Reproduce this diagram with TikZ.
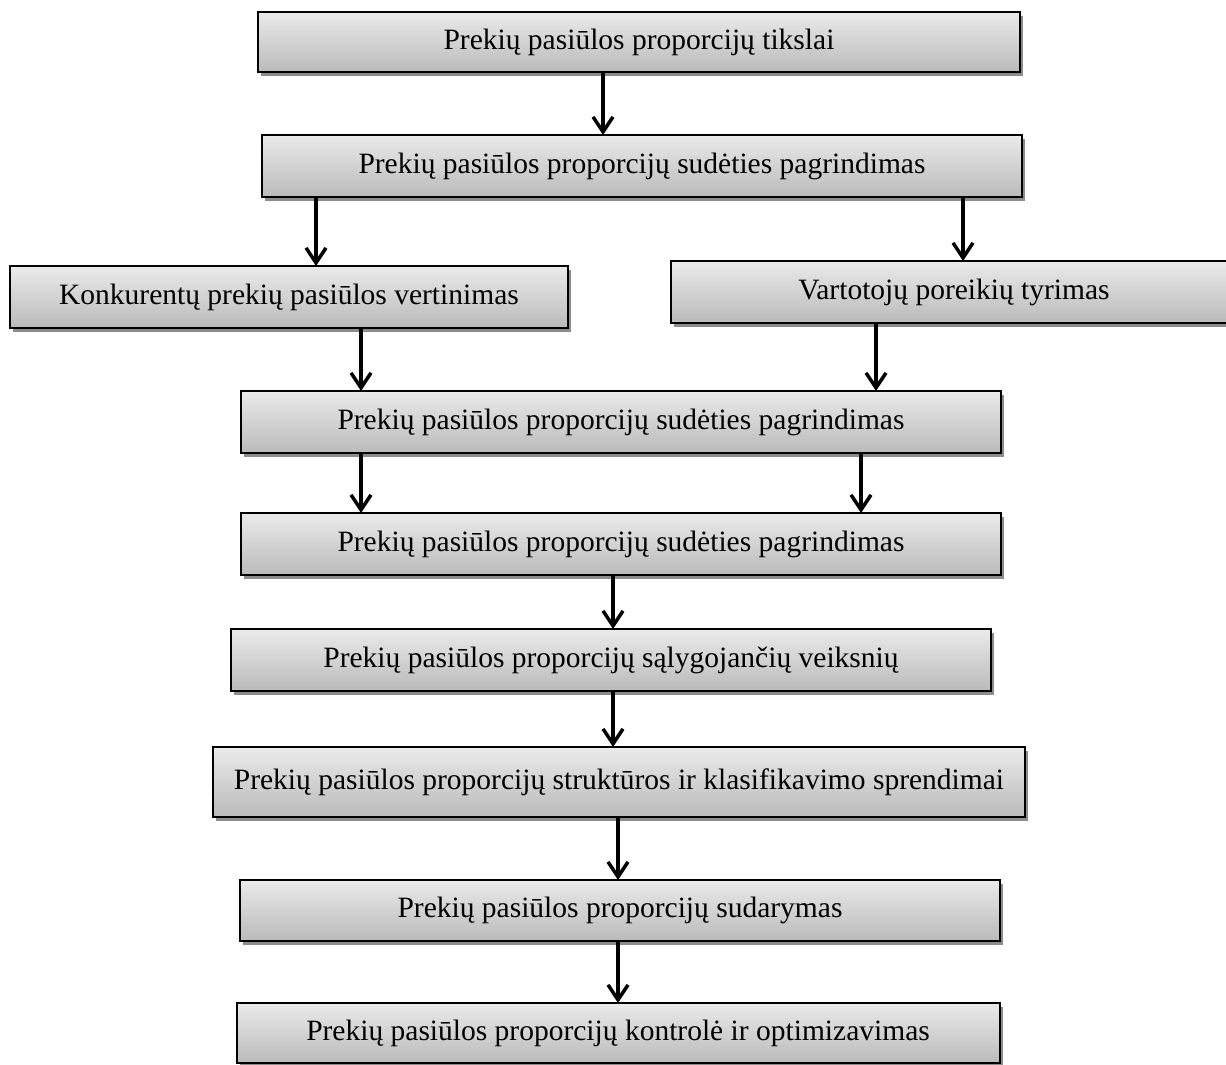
\documentclass[tikz,border=0pt]{standalone}
\usepackage{fontspec}
\setmainfont{Liberation Serif}
\usepackage{tikz}
\usetikzlibrary{shapes,arrows.meta,positioning,shadows}
\tikzset{
	stagebox/.style={rectangle, draw=black, line width=2pt, top color=black!8, bottom color=black!27,
		drop shadow={shadow xshift=3pt, shadow yshift=-4pt, fill=black!45, opacity=1},
		minimum height=62pt, minimum width=760pt, align=center, inner sep=0pt, outer sep=0pt,
		font=\fontsize{29.5}{34}\selectfont},
	stagearr/.style={-{Straight Barb[length=15pt,width=20pt,line width=3.5pt]}, line width=4pt}
}
\begin{document}
\begin{tikzpicture}[x=1pt,y=1pt]
			\useasboundingbox (0,0) rectangle (1226,-1065);
			\node[stagebox, minimum width=762pt, minimum height=60pt] (tiksl) at (639,-42) {Prekių pasiūlos proporcijų tikslai};
			\node[stagebox, below=63pt of tiksl, xshift=3pt] (pagr) {Prekių pasiūlos proporcijų sudėties pagrindimas};
			\node[stagebox, below=69pt of pagr, xshift=-353pt, minimum width=558pt] (konk) {Konkurentų prekių pasiūlos vertinimas};
			\node[stagebox, below=64pt of pagr, xshift=312pt, minimum width=566pt] (vart) {Vartotojų poreikių tyrimas};
			\node[stagebox, below=63pt of konk, xshift=332pt] (pagra) {Prekių pasiūlos proporcijų sudėties pagrindimas};
			\node[stagebox, below=60pt of pagra] (pagrb) {Prekių pasiūlos proporcijų sudėties pagrindimas};
			\node[stagebox, below=54pt of pagrb, xshift=-10pt] (veiks) {Prekių pasiūlos proporcijų sąlygojančių veiksnių};
			\node[stagebox, below=56pt of veiks, xshift=8pt, minimum width=812pt, minimum height=70pt] (strukt) {Prekių pasiūlos proporcijų struktūros ir klasifikavimo sprendimai};
			\node[stagebox, below=63pt of strukt, xshift=1pt, minimum height=61pt] (sudar) {Prekių pasiūlos proporcijų sudarymas};
			\node[stagebox, below=62pt of sudar, xshift=-2pt, minimum width=763pt, minimum height=60pt] (kontr) {Prekių pasiūlos proporcijų kontrolė ir optimizavimas};
			\draw[stagearr] ([xshift=-36pt]tiksl.south) -- ([xshift=-36pt]tiksl.south |- pagr.north);
			\draw[stagearr] ([xshift=-326pt]pagr.south) -- ([xshift=-326pt]pagr.south |- konk.north);
			\draw[stagearr] ([xshift=321pt]pagr.south) -- ([xshift=321pt]pagr.south |- vart.north);
			\draw[stagearr] ([xshift=72pt]konk.south) -- ([xshift=72pt]konk.south |- pagra.north);
			\draw[stagearr] ([xshift=-78pt]vart.south) -- ([xshift=-78pt]vart.south |- pagra.north);
			\draw[stagearr] ([xshift=-260pt]pagra.south) -- ([xshift=-260pt]pagra.south |- pagrb.north);
			\draw[stagearr] ([xshift=240pt]pagra.south) -- ([xshift=240pt]pagra.south |- pagrb.north);
			\draw[stagearr] ([xshift=-8pt]pagrb.south) -- ([xshift=-8pt]pagrb.south |- veiks.north);
			\draw[stagearr] ([xshift=2pt]veiks.south) -- ([xshift=2pt]veiks.south |- strukt.north);
			\draw[stagearr] ([xshift=-1pt]strukt.south) -- ([xshift=-1pt]strukt.south |- sudar.north);
			\draw[stagearr] ([xshift=-2pt]sudar.south) -- ([xshift=-2pt]sudar.south |- kontr.north);
		\end{tikzpicture}
\end{document}
